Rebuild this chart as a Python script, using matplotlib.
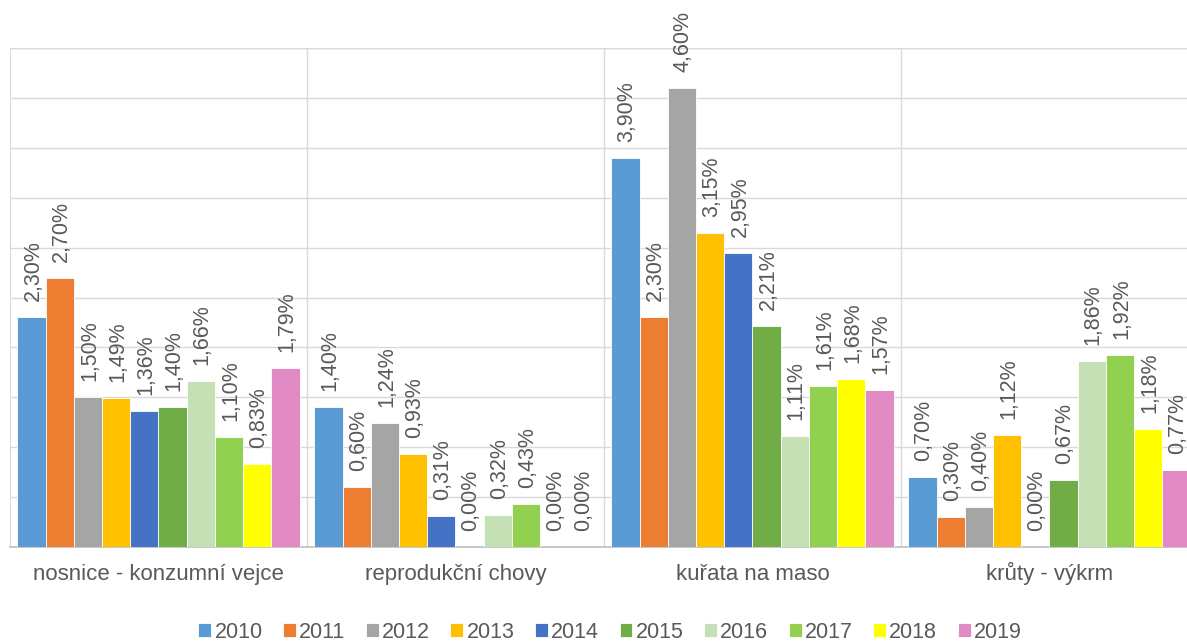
import numpy as np
import matplotlib.pyplot as plt

plt.rcParams['font.family'] = ['Liberation Sans', 'DejaVu Sans']

kategorie = ['nosnice - konzumní vejce', 'reprodukční chovy', 'kuřata na maso', 'krůty - výkrm']
roky = ['2010', '2011', '2012', '2013', '2014', '2015', '2016', '2017', '2018', '2019']

# hodnoty v % pro každý rok (pořadí kategorií jako výše)
hodnoty = {
    '2010': [2.30, 1.40, 3.90, 0.70],
    '2011': [2.70, 0.60, 2.30, 0.30],
    '2012': [1.50, 1.24, 4.60, 0.40],
    '2013': [1.49, 0.93, 3.15, 1.12],
    '2014': [1.36, 0.31, 2.95, 0.00],
    '2015': [1.40, 0.00, 2.21, 0.67],
    '2016': [1.66, 0.32, 1.11, 1.86],
    '2017': [1.10, 0.43, 1.61, 1.92],
    '2018': [0.83, 0.00, 1.68, 1.18],
    '2019': [1.79, 0.00, 1.57, 0.77],
}

barvy = ['#5B9BD5', '#ED7D31', '#A5A5A5', '#FFC000', '#4472C4',
         '#70AD47', '#C5E0B4', '#92D050', '#FFFF00', '#E28AC3']

sedá = '#595959'

fig = plt.figure(figsize=(11.87, 6.42), dpi=100)
ax = fig.add_axes([10 / 1187, 1 - 547 / 642, 1188 / 1187, 499 / 642])

x = np.arange(len(kategorie))
n = len(roky)
sirka = 0.95 / n

for i, rok in enumerate(roky):
    pozice = x - 0.475 + sirka * (i + 0.5)
    ax.bar(pozice, hodnoty[rok], width=sirka, color=barvy[i], edgecolor='white',
           linewidth=0.6, label=rok, zorder=3)
    for px, v in zip(pozice, hodnoty[rok]):
        ax.text(px + 0.005, v + 0.16, f'{v:.2f}'.replace('.', ',') + '%', rotation=90,
                ha='center', va='bottom', fontsize=15.5, color=sedá, zorder=4)

ax.set_xlim(-0.5, len(kategorie) - 0.5)
ax.set_ylim(0, 5.0)
ax.set_yticks(np.arange(0, 5.01, 0.5))
ax.set_yticklabels([])
ax.tick_params(axis='y', length=0)
ax.set_xticks(x)
ax.set_xticklabels([])
ax.tick_params(axis='x', length=0)
for px, nazev in zip(x, kategorie):
    ax.text(px, -0.33, nazev, ha='center', va='baseline', fontsize=16, color=sedá)
ax.set_xticks(np.arange(0.5, len(kategorie) - 0.5, 1), minor=True)
ax.tick_params(axis='x', which='minor', length=0)
ax.grid(axis='y', color='#D9D9D9', linewidth=1, zorder=0)
ax.grid(axis='x', which='minor', color='#D9D9D9', linewidth=1, zorder=0)

for s in ['top', 'right']:
    ax.spines[s].set_visible(False)
ax.spines['left'].set_color('#D9D9D9')
ax.spines['bottom'].set_color('#BFBFBF')
ax.spines['bottom'].set_linewidth(1.2)
ax.axhline(5.0, color='#D9D9D9', linewidth=1, zorder=0)

fig.legend(loc='center', bbox_to_anchor=(610 / 1187, 1 - 632 / 642), ncol=n, frameon=False,
           fontsize=15.5, labelcolor=sedá, handlelength=0.6, handleheight=0.6,
           handletextpad=0.15, columnspacing=0.95)

plt.savefig('out.png', dpi=100)
